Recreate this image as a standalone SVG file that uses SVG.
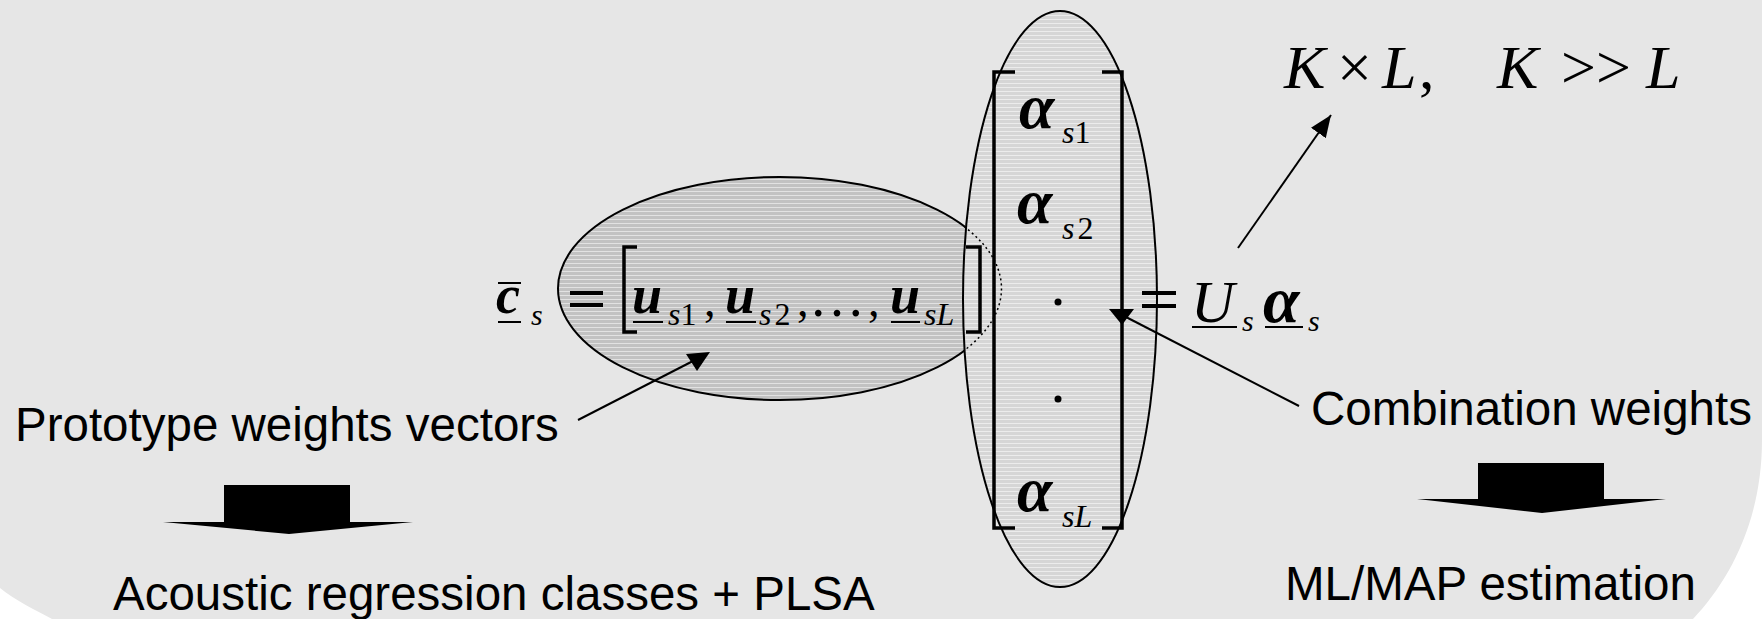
<svg xmlns="http://www.w3.org/2000/svg" width="1762" height="619" viewBox="0 0 1762 619">
<defs>
<pattern id="hatchA" width="8" height="4" patternUnits="userSpaceOnUse">
<rect width="8" height="4" fill="#c2c2c2"/>
<rect y="3" width="8" height="1" fill="#e2e2e2"/>
</pattern>
<pattern id="hatchB" width="8" height="4" patternUnits="userSpaceOnUse">
<rect width="8" height="4" fill="#d6d6d6"/>
<rect y="3" width="8" height="1" fill="#ececec"/>
</pattern>
<marker id="arr" markerWidth="22" markerHeight="18" refX="22" refY="9" orient="auto" markerUnits="userSpaceOnUse">
<path d="M0,0 L22,9 L0,18 Z" fill="#000"/>
</marker>
</defs>
<style>
.m{font-family:"Liberation Serif","Times New Roman",serif;font-style:italic;fill:#000}
.mb{font-family:"Liberation Serif","Times New Roman",serif;font-style:italic;font-weight:bold;fill:#000}
.n{font-family:"Liberation Serif","Times New Roman",serif;fill:#000}
.lab{font-family:"Liberation Sans",Arial,sans-serif;font-size:47.5px;fill:#000}
.br{fill:none;stroke:#000;stroke-width:3.5}
.ul{stroke:#000;stroke-width:2}
.eq{stroke:#000;stroke-width:4}
.con{stroke:#000;stroke-width:2;fill:none}
</style>
<rect width="1762" height="619" fill="#ffffff"/>
<path d="M0,0 H1762 V440 C1762,520 1730,580 1693,619 H52 C35,610 15,600 0,588 Z" fill="#e6e6e6"/>

<g id="node-left-ellipse">
<ellipse cx="780" cy="288.5" rx="222" ry="111.5" fill="url(#hatchA)" stroke="#000" stroke-width="2"/>
</g>

<g id="node-right-ellipse">
<ellipse cx="1060" cy="299" rx="97" ry="288" fill="url(#hatchB)" stroke="#000" stroke-width="2"/>
<path d="M964,226.5 A222,111.5 0 0 1 964,350.5" fill="none" stroke="#000" stroke-width="1.5" stroke-dasharray="2,3"/>
</g>

<g id="node-equation-left">
<text class="mb" x="496" y="313" font-size="54">c</text>
<line class="ul" x1="498" y1="283" x2="521" y2="283"/>
<line class="ul" x1="498" y1="322" x2="521" y2="322"/>
<text class="m" x="531" y="325" font-size="30">s</text>
<line class="eq" x1="570" y1="293" x2="603" y2="293"/>
<line class="eq" x1="570" y1="305" x2="603" y2="305"/>
<path class="br" d="M637,247 H624 V332 H637" stroke-width="3"/>
<text class="mb" x="632" y="313" font-size="54">u</text>
<line class="ul" x1="633" y1="322" x2="663" y2="322"/>
<text class="m" x="668" y="325" font-size="32">s<tspan font-style="normal">1</tspan></text>
<text class="n" x="704" y="316" font-size="46">,</text>
<text class="mb" x="725" y="313" font-size="54">u</text>
<line class="ul" x1="726" y1="322" x2="756" y2="322"/>
<text class="m" x="759" y="325" font-size="32">s<tspan font-style="normal" dx="3">2</tspan></text>
<text class="n" x="797" y="316" font-size="46">,</text>
<text class="n" x="809" y="316" font-size="56">…</text>
<text class="n" x="868" y="316" font-size="46">,</text>
<text class="mb" x="890" y="313" font-size="54">u</text>
<line class="ul" x1="891" y1="322" x2="920" y2="322"/>
<text class="m" x="924" y="325" font-size="32">sL</text>
<path class="br" d="M966,247 H980 V332 H966" stroke-width="3"/>
</g>

<g id="node-alpha-vector">
<path class="br" d="M1015,72 H994 V528 H1015"/>
<path class="br" d="M1102,72 H1122 V528 H1102"/>
<text class="mb" x="1019" y="128" font-size="64">α</text>
<text class="m" x="1062" y="143" font-size="32">s<tspan font-style="normal">1</tspan></text>
<text class="mb" x="1017" y="223" font-size="64">α</text>
<text class="m" x="1062" y="239" font-size="32">s<tspan font-style="normal" dx="3">2</tspan></text>
<circle cx="1058" cy="302" r="3.5" fill="#000"/>
<circle cx="1058" cy="399" r="3.5" fill="#000"/>
<text class="mb" x="1017" y="511" font-size="64">α</text>
<text class="m" x="1062" y="527" font-size="32">sL</text>
</g>

<g id="node-equation-right">
<line class="eq" x1="1142" y1="293" x2="1176" y2="293"/>
<line class="eq" x1="1142" y1="306" x2="1176" y2="306"/>
<text class="m" x="1191" y="322" font-size="60">U</text>
<line class="ul" x1="1192" y1="327" x2="1237" y2="327"/>
<text class="m" x="1242" y="331" font-size="30">s</text>
<text class="mb" x="1263" y="322" font-size="66">α</text>
<line class="ul" x1="1265" y1="327" x2="1303" y2="327"/>
<text class="m" x="1308" y="331" font-size="30">s</text>
</g>

<g id="node-dimension">
<text class="m" x="1284" y="88" font-size="62">K</text>
<text class="n" x="1337" y="88" font-size="62">×</text>
<text class="m" x="1382" y="88" font-size="62">L</text>
<text class="n" x="1419" y="88" font-size="62">,</text>
<text class="m" x="1497" y="88" font-size="62">K</text>
<text class="n" x="1561" y="88" font-size="62">&gt;&gt;</text>
<text class="m" x="1646" y="88" font-size="62">L</text>
</g>

<g id="node-prototype-label">
<text class="lab" x="15" y="441">Prototype weights vectors</text>
</g>
<g id="node-acoustic-label">
<text class="lab" x="113" y="610">Acoustic regression classes + PLSA</text>
</g>
<g id="node-combination-label">
<text class="lab" x="1311" y="425">Combination weights</text>
</g>
<g id="node-ml-label">
<text class="lab" x="1285" y="600">ML/MAP estimation</text>
</g>

<g id="node-block-arrow-left">
<polygon points="224,485 350,485 350,522 413,522 289,534 163,522 224,522" fill="#000"/>
</g>
<g id="node-block-arrow-right">
<polygon points="1478,463 1604,463 1604,499 1666,499 1542,513 1417,499 1478,499" fill="#000"/>
</g>

<g id="connectors">
<line class="con" x1="1238" y1="248" x2="1331" y2="115" marker-end="url(#arr)"/>
<line class="con" x1="1299" y1="406" x2="1124" y2="316"/>
<polygon points="1109,309 1134,309 1122,325" fill="#000"/>
<line class="con" x1="578" y1="420" x2="693" y2="361"/>
<polygon points="686,354 710,352 697,371" fill="#000"/>
</g>
</svg>
